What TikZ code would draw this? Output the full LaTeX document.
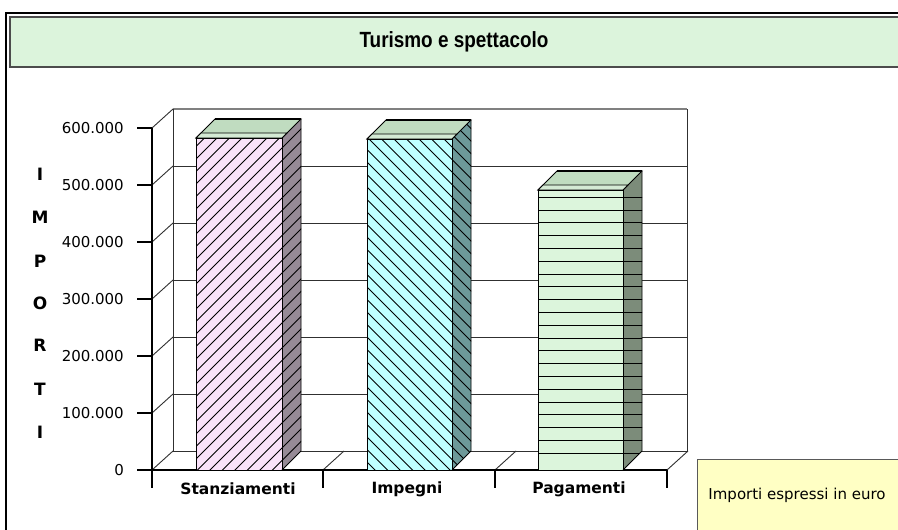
\documentclass[tikz,border=0pt]{standalone}
\usepackage{fontspec}
\setmainfont{DejaVu Sans}
\newfontfamily\titlefont{Liberation Sans}
\definecolor{titlegreen}{HTML}{DCF4DC}
\definecolor{topgreen}{HTML}{C0DCC0}
\definecolor{stripgreen}{HTML}{D4EAD4}
\definecolor{stfront}{HTML}{FAE2FA}
\definecolor{stside}{HTML}{968A96}
\definecolor{imfront}{HTML}{BFFFFF}
\definecolor{imside}{HTML}{6D9999}
\definecolor{pafront}{HTML}{DCF5DC}
\definecolor{paside}{HTML}{7C8C7A}
\definecolor{legendyellow}{HTML}{FFFFC4}
\definecolor{gridgray}{HTML}{303030}
\tikzset{
  gridline/.style={draw=gridgray, line width=0.9pt},
  hatchline/.style={draw=black, line width=0.75pt},
  faceedge/.style={draw=black, line width=0.9pt},
  ticklabel/.style={anchor=east, font=\fontsize{15}{15}\selectfont, inner sep=0pt},
  catlabel/.style={font=\bfseries\fontsize{15.5}{15.5}\selectfont, inner sep=0pt},
  axisletter/.style={font=\bfseries\fontsize{17}{17}\selectfont, inner sep=0pt},
}
\newcommand\colfaces[5]{%
  \fill[#4] (#1,470) rectangle (#2,#3);
  \fill[#5] (#2,470) -- (#2+19,451) -- (#2+19,#3-19) -- (#2,#3) -- cycle;
}
\newcommand\colclip[3]{%
  \clip (#1,470) -- (#2,470) -- (#2+19,451) -- (#2+19,#3-19) -- (#2,#3) -- (#1,#3) -- cycle;
}
\newcommand\coltop[3]{%
  \draw[faceedge, fill=topgreen] (#1,#3) -- (#1+19,#3-19) -- (#2+19,#3-19) -- (#2,#3) -- cycle;
  \draw[faceedge, fill=stripgreen] (#1,#3) -- (#1+5,#3-5) -- (#2+5,#3-5) -- (#2,#3) -- cycle;
  \draw[faceedge] (#1,470) rectangle (#2,#3);
  \draw[faceedge] (#2,470) -- (#2+19,451) -- (#2+19,#3-19);
  \draw[line width=2pt] (#1+19,#3-19) -- (#2+19,#3-19);
}
\begin{document}
\begin{tikzpicture}[x=1pt,y=-1pt]
\useasboundingbox (0,0) rectangle (898,530);
\fill[white] (0,0) rectangle (898,530);

% outer frame
\draw[line width=2pt] (6,532) -- (6,13) -- (900,13);
% title band
\draw[fill=titlegreen, draw=gray!60!black, line width=1.6pt] (10,17) rectangle (902,67);
\node (title) at (454,42) {\titlefont\bfseries\fontsize{22}{22}\selectfont\scalebox{0.86}[1]{Turismo e spettacolo}};

% back wall and side wall grid
\foreach \k in {0,...,6} {
  \draw[gridline] (173,{451-57*\k}) -- (687,{451-57*\k});
  \draw[gridline] (152,{470-57*\k}) -- (173,{451-57*\k});
  \draw[line width=1.2pt] (137,{470-57*\k}) -- (152,{470-57*\k});
}
\draw[draw=gray, line width=1.4pt] (173,109) -- (687,109);
\draw[gridline] (173,109) -- (173,451);
\draw[gridline] (687,109) -- (687,451);

% floor
\foreach \x in {323,495,667} {
  \draw[gridline] (\x,470) -- (\x+21,451);
}
\foreach \x in {152,323,495,667} {
  \draw[line width=1.2pt] (\x,470) -- (\x,488);
}
\draw[line width=1.4pt] (152,470) -- (667,470);
\draw[line width=2pt] (152,128) -- (152,470);

% tick labels
\foreach \k/\t in {0/0,1/100.000,2/200.000,3/300.000,4/400.000,5/500.000,6/600.000} {
  \node[ticklabel] (tl\k) at (124,{470-57*\k}) {\t};
}

% axis title letters
\node[axisletter] (l1) at (40,174) {I};
\node[axisletter] (l2) at (40,217) {M};
\node[axisletter] (l3) at (40,261) {P};
\node[axisletter] (l4) at (40,303) {O};
\node[axisletter] (l5) at (40,345) {R};
\node[axisletter] (l6) at (40,389) {T};
\node[axisletter] (l7) at (40,432) {I};

% Stanziamenti
\colfaces{196}{282}{138}{stfront}{stside}
\begin{scope}
  \colclip{196}{282}{138}
  \foreach \c in {-250,-237.5,...,320} { \draw[hatchline] (\c,480) -- ++(420,-420); }
\end{scope}
\coltop{196}{282}{138}

% Impegni
\colfaces{367}{452}{139}{imfront}{imside}
\begin{scope}
  \colclip{367}{452}{139}
  \foreach \c in {360,372.5,...,900} { \draw[hatchline] (\c,480) -- ++(-420,-420); }
\end{scope}
\coltop{367}{452}{139}

% Pagamenti
\colfaces{538}{623}{190}{pafront}{paside}
\begin{scope}
  \colclip{538}{623}{190}
  \foreach \yy in {197.3,210.1,...,454} { \draw[line width=1pt] (530,\yy) -- (650,\yy); }
\end{scope}
\coltop{538}{623}{190}

% category labels
\node[catlabel] (c1) at (238,489) {Stanziamenti};
\node[catlabel] (c2) at (407,489) {Impegni};
\node[catlabel] (c3) at (579,489) {Pagamenti};

% legend
\draw[fill=legendyellow, draw=gray!70!black, line width=1pt] (697,459) rectangle (902,540);
\node (legend) at (797,495) {\fontsize{15}{15}\selectfont Importi espressi in euro};
\end{tikzpicture}
\end{document}
